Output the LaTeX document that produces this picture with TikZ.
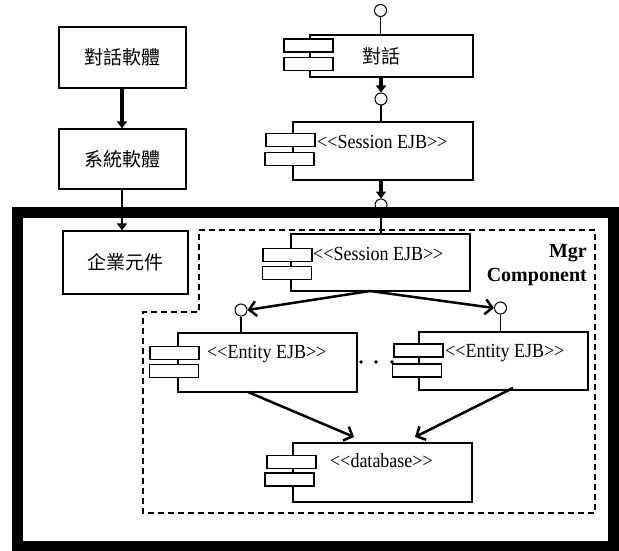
\documentclass[tikz,border=0pt]{standalone}
\usepackage{fontspec}
\setmainfont{Liberation Serif}
\newfontfamily\cjk{Noto Sans CJK TC}
\usetikzlibrary{arrows.meta}

% stereotype label, Times-like and slightly narrowed
\newcommand{\stereo}[1]{\scalebox{0.9}[1]{\fontsize{20}{22}\selectfont #1}}

\begin{document}
\begin{tikzpicture}[x=1pt,y=-1pt,
  box/.style={draw,line width=1.3pt,fill=white,inner sep=0pt},
  tab/.style={draw,line width=1.2pt,fill=white,minimum width=49pt,minimum height=13pt,inner sep=0pt},
  port/.style={draw,circle,line width=1pt,fill=white,minimum size=12pt,inner sep=0pt},
  lbl/.style={anchor=base west,inner sep=0pt},
  cjklbl/.style={inner sep=0pt,font=\cjk\fontsize{19}{21}\selectfont},
  mgrlbl/.style={anchor=base east,inner sep=0pt,font=\bfseries\fontsize{20}{22}\selectfont},
  thin/.style={line width=1.1pt},
  flow/.style={-{Triangle[length=7pt,width=10pt]}},
  link/.style={line width=2.5pt,-{Straight Barb[length=7pt,width=15pt]}}]
\useasboundingbox (0,0) rectangle (619,551);

% ---- layered software stack (left column)
\node[box,minimum width=127pt,minimum height=61pt] (ui)  at (122.5,57.5) {};
\node[cjklbl] at (ui.center) {對話軟體};
\node[box,minimum width=127pt,minimum height=60pt] (sys) at (122.5,159) {};
\node[cjklbl] at (sys.center) {系統軟體};
\node[box,minimum width=125pt,minimum height=63pt] (ent) at (125.5,262.5) {};
\node[cjklbl] at (ent.center) {企業元件};

\draw[flow,line width=4pt] (ui.south -| 122,0) -- (sys.north -| 122,0);
\draw[flow,line width=2.6pt] (sys.south -| 122,0) -- (ent.north -| 122,0);

% ---- dialog component
\node[box,minimum width=163pt,minimum height=42pt] (dlg) at (391.5,56) {};
\node[tab] at (308.5,45.5) {};
\node[tab] at (308.5,64) {};
\node[cjklbl] at (381,56) {對話};
\node[port] (p0) at (380.5,10.5) {};
\draw[thin] (p0) -- (dlg.north -| p0);

% ---- first session bean
\node[port] (p1) at (381,99) {};
\node[box,minimum width=180pt,minimum height=58pt] (s1) at (383,151) {};
\node[tab] at (290.5,140) {};
\node[tab] at (289.5,159) {};
\node[lbl] at (317,148) {\stereo{<{}<Session EJB>{}>}};
\draw[thin] (p1) -- (s1.north -| p1);
\draw[flow,line width=4pt] (dlg.south -| p1) -- (p1);

% ---- port of the manager component (partly under the frame)
\node[port] (p2) at (381,205) {};
\draw[flow,line width=4pt] (s1.south -| p2) -- (p2);

% ---- dashed manager component outline
\draw[line width=1.2pt,dash pattern=on 6pt off 4pt]
  (199,230) -- (595,230) -- (595,513) -- (143,513) -- (143,312) -- (199,312) -- cycle;
\node[mgrlbl] (mgr) at (587,257) {Mgr};
\node[mgrlbl] (mgrc) at (587,281) {Component};

% ---- inner session bean
\node[box,minimum width=179pt,minimum height=57pt] (s2) at (380.5,262.5) {};
\node[tab] at (287.5,255) {};
\node[tab] at (287,273) {};
\node[lbl] at (313,260) {\stereo{<{}<Session EJB>{}>}};
\draw[thin] (p2) -- (s2.north -| p2);

% ---- entity beans
\node[port] (p3) at (241,310) {};
\node[box,minimum width=179pt,minimum height=59pt] (e1) at (267.5,362.5) {};
\node[tab] at (174.5,353) {};
\node[tab] at (174,371) {};
\node[lbl] at (207,358) {\stereo{<{}<Entity EJB>{}>}};
\draw[thin] (p3) -- (e1.north -| p3);

\node[port] (p4) at (500.5,308) {};
\node[box,minimum width=169pt,minimum height=58pt] (e2) at (503.5,361) {};
\node[tab] at (418.5,350.5) {};
\node[tab] at (417,370.5) {};
\node[lbl] at (445,357) {\stereo{<{}<Entity EJB>{}>}};
\draw[thin] (p4) -- (e2.north -| p4);

\foreach \dx in {361,376,392} \fill (\dx,362) circle (1.8pt);

% ---- database
\node[box,minimum width=179pt,minimum height=59pt] (db) at (382.5,472.5) {};
\node[tab] at (291.5,462) {};
\node[tab] at (289.5,479.5) {};
\node[lbl] at (330,467) {\stereo{<{}<database>{}>}};

% ---- dependencies
\coordinate (sb) at (370,291);
\draw[link] (sb) -- (p3.east);
\draw[link] (sb) -- (p4.west);
\draw[link] (248,392) -- (354,437);
\draw[link] (513,388) -- (415,437);

% ---- heavy frame around the enterprise layer
\draw[line width=11pt] (17.5,212.5) rectangle (613.5,546);
\end{tikzpicture}
\end{document}
